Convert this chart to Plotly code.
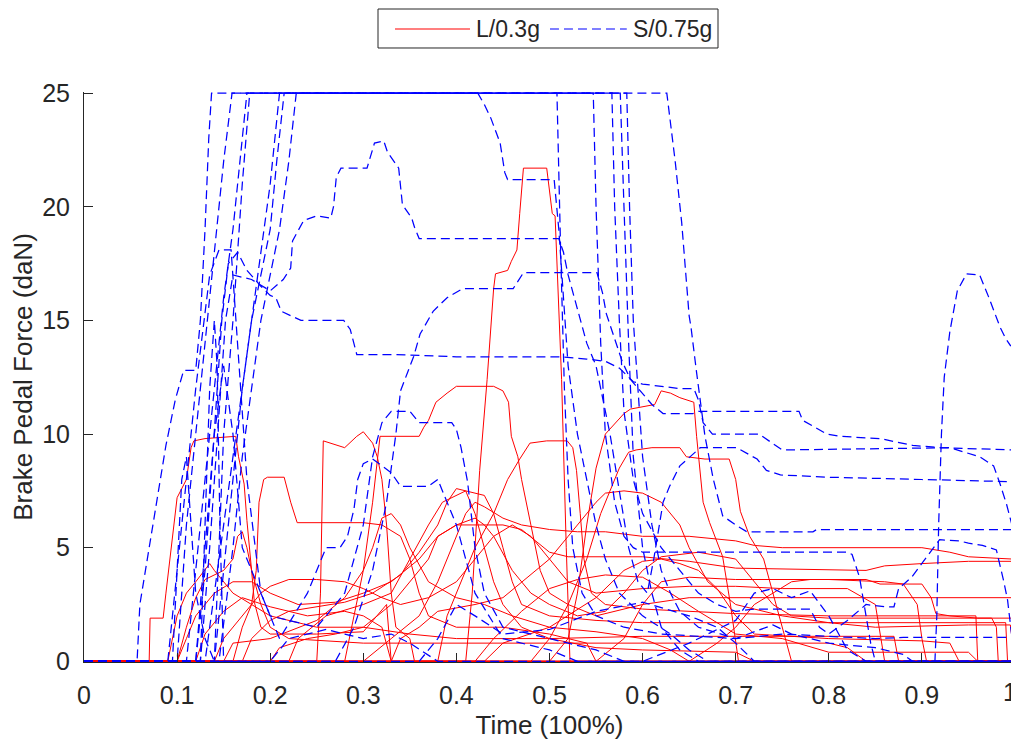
import plotly.graph_objects as go

# ---- data: (time fraction, brake pedal force daN) ----
# Red solid series  "L/0.3g"
L01 = [(0,0),(0.41,0),(0.417,3),(0.425,8.4),(0.433,12.4),(0.44,16.4),(0.442,17.05),(0.455,17.2),(0.459,17.6),(0.465,18.1),(0.468,19.7),(0.472,21.7),(0.497,21.7),(0.503,19.7),(0.506,19.6),(0.513,12.4),(0.518,5),(0.522,0),(1,0)]
L02 = [(0,0),(0.07,0),(0.071,1.9),(0.085,1.9),(0.088,3),(0.095,5.5),(0.1,7.2),(0.11,8.0),(0.115,9.4),(0.118,9.7),(0.13,9.8),(0.163,9.9),(0.166,9.0),(0.172,7.8),(0.175,6.2),(0.18,4.0),(0.183,2.6),(0.19,1.5),(0.2,1.2),(0.25,1.2),(0.3,1.3),(0.325,2.5),(0.33,0),(1,0)]
L03 = [(0,0),(0.16,0),(0.17,1.5),(0.18,2.5),(0.185,4),(0.188,7),(0.193,8.0),(0.197,8.1),(0.215,8.1),(0.222,7.0),(0.229,6.1),(0.279,6.1),(0.3,6.1),(0.32,6.0),(0.34,5.5),(0.35,4.5),(0.36,3),(0.37,2),(0.4,1.5),(0.45,1.5),(0.5,1.2),(0.54,0.8),(0.55,0),(1,0)]
L04 = [(0,0),(0.25,0),(0.254,3),(0.257,9.7),(0.28,9.4),(0.293,9.9),(0.3,10.1),(0.31,9.6),(0.315,9.0),(0.32,8),(0.325,6),(0.33,3),(0.335,1.5),(0.35,1.0),(0.355,0),(1,0)]
L05 = [(0,0),(0.28,0),(0.29,2),(0.3,4),(0.31,7),(0.315,9),(0.318,9.9),(0.36,9.9),(0.365,10.3),(0.37,10.6),(0.378,11.4),(0.39,11.8),(0.4,12.1),(0.44,12.1),(0.45,11.9),(0.456,11.4),(0.459,9.9),(0.466,9.0),(0.47,8),(0.48,6),(0.49,4),(0.5,3),(0.52,2.5),(0.55,2),(0.6,2.5),(0.65,2.8),(1,2.8)]
L06 = [(0,0),(0.5,0),(0.52,1),(0.53,3),(0.54,6),(0.55,8.5),(0.56,10),(0.58,10.9),(0.587,11.1),(0.613,11.3),(0.62,11.9),(0.63,11.8),(0.64,11.6),(0.655,11.4),(0.658,9.9),(0.662,8.4),(0.665,7.0),(0.672,6.1),(0.686,4.6),(0.694,2.6),(0.703,0),(1,0)]
L07 = [(0,0),(0.48,0),(0.5,1),(0.52,2.5),(0.54,4.5),(0.555,6.5),(0.565,7.5),(0.575,8.5),(0.585,9.2),(0.593,9.3),(0.61,9.4),(0.64,9.4),(0.647,9.0),(0.667,8.9),(0.693,8.9),(0.7,8),(0.705,6.6),(0.715,5.5),(0.73,4.5),(0.74,3),(0.75,1.5),(0.76,0),(1,0)]
L08 = [(0,0),(0.38,0),(0.39,2),(0.4,3),(0.42,5),(0.44,6.5),(0.455,8),(0.468,8.9),(0.479,9.6),(0.497,9.7),(0.519,9.7),(0.525,9.4),(0.529,8.4),(0.533,6.5),(0.537,4.5),(0.545,3),(0.56,2.5),(0.6,2.3),(0.7,2.1),(0.8,2.0),(0.958,2.0),(0.96,0),(1,0)]
L09 = [(0,0),(0.22,0),(0.23,1),(0.26,2),(0.3,2.5),(0.33,3),(0.35,4.5),(0.37,6),(0.385,7),(0.4,7.3),(0.41,7.5),(0.43,7.3),(0.44,6.5),(0.45,5),(0.46,3.5),(0.47,2.5),(0.5,2),(0.55,1.8),(0.6,1.7),(0.8,1.7),(0.99,1.7),(0.992,0),(1,0)]
L10 = [(0,0),(0.3,0),(0.33,1),(0.36,2),(0.38,3.5),(0.395,5),(0.41,6.5),(0.42,7),(0.43,6.8),(0.45,6.3),(0.47,6.0),(0.5,5.8),(0.53,5.7),(0.56,5.7),(0.6,5.5),(0.65,5.5),(0.7,5.3),(0.72,5.1),(0.75,5.0),(0.9,5.0),(0.93,4.8),(0.95,4.6),(0.997,4.5),(1,1.5)]
L11 = [(0,0),(0.1,0),(0.11,1),(0.12,2),(0.14,3),(0.16,3.5),(0.18,3.5),(0.2,3),(0.23,2.5),(0.27,2.6),(0.3,3),(0.33,3.5),(0.36,4.5),(0.38,5.5),(0.4,6),(0.45,6),(0.47,5.8),(0.5,4.8),(0.52,4.6),(0.6,4.6),(0.65,4.4),(0.7,4.1),(0.84,4.0),(0.86,4.2),(0.9,4.3),(0.95,4.4),(1,4.4)]
L12 = [(0,0),(0.55,0),(0.58,1),(0.6,2.5),(0.62,3.5),(0.65,3.7),(0.7,3.6),(0.84,3.6),(0.855,3.4),(0.9,3.4),(0.91,2.8),(0.915,2.1),(0.93,2.0),(0.96,1.9),(0.975,1.9),(0.98,1.5),(0.982,0),(1,0)]
L13 = [(0,0),(0.09,0),(0.1,2),(0.11,3),(0.12,3.5),(0.13,4),(0.135,4.3),(0.14,4.0),(0.15,3.5),(0.16,3.0),(0.18,2.5),(0.2,2.0),(0.25,1.5),(0.3,1.5),(0.35,1.2),(0.4,1.0),(0.5,1.0),(0.6,1.1),(0.7,1.1),(0.87,1.1),(0.875,0),(1,0)]
L14 = [(0,0),(0.1,0),(0.11,1.5),(0.12,2.8),(0.13,3.6),(0.14,3.8),(0.15,4.0),(0.16,4.5),(0.165,5.5),(0.17,5.7),(0.175,5.0),(0.18,4),(0.19,2.5),(0.2,1.5),(0.22,1.0),(0.3,0.8),(0.5,0.8),(0.7,0.8),(0.8,0.8),(0.82,0.6),(0.84,0),(1,0)]
L15 = [(0,0),(0.14,0),(0.15,1),(0.17,2),(0.19,3),(0.2,3.3),(0.22,3.6),(0.25,3.6),(0.28,3.5),(0.3,3.2),(0.32,2.8),(0.34,2.5),(0.37,2.8),(0.4,3.5),(0.42,4.5),(0.44,5.5),(0.46,6),(0.48,5.5),(0.5,4.5),(0.52,3.5),(0.55,3),(0.6,3.2),(0.65,3.3),(0.7,3.3),(0.75,3.2),(0.82,3.2),(0.85,2.5),(0.86,0),(1,0)]
L16 = [(0,0),(0.17,0),(0.18,1),(0.2,1.8),(0.22,2.2),(0.25,2.4),(0.28,2.6),(0.31,3.0),(0.34,3.8),(0.36,4.8),(0.38,6.0),(0.39,7.0),(0.4,7.6),(0.41,7.5),(0.42,6.5),(0.43,5),(0.44,3.5),(0.45,2.5),(0.47,1.5),(0.5,1),(0.55,0.6),(0.6,0.5),(0.7,0.4),(0.72,0),(1,0)]
L17 = [(0,0),(0.2,0),(0.21,0.6),(0.24,1),(0.27,1.2),(0.3,1.5),(0.33,2.5),(0.35,3.5),(0.37,4.5),(0.38,5.5),(0.4,6.0),(0.42,6.3),(0.43,6.0),(0.44,5.5),(0.46,4.0),(0.48,3),(0.5,2.5),(0.53,2),(0.56,2.2),(0.58,3.0),(0.6,4.0),(0.62,4.6),(0.66,4.8),(0.7,4.5),(0.72,3.5),(0.74,2.5),(0.76,2.0),(0.8,1.9),(0.9,1.9),(1,1.9)]
L18 = [(0,0),(0.65,0),(0.68,0.8),(0.7,1.5),(0.72,2.5),(0.74,3),(0.76,3.5),(0.78,3.6),(0.8,3.6),(0.86,3.5),(0.88,3.4),(0.895,2.5),(0.9,1),(0.905,0),(1,0)]
L19 = [(0,0),(0.33,0),(0.34,1),(0.36,1.5),(0.38,2.2),(0.42,2.5),(0.45,2.8),(0.48,3.8),(0.5,4.5),(0.52,5.5),(0.54,6.5),(0.55,7),(0.56,7.4),(0.58,7.5),(0.6,7.4),(0.62,7),(0.64,6),(0.65,5),(0.67,3.5),(0.7,2.5),(0.75,2),(0.8,1.7),(0.85,1.5),(0.95,1.6),(0.995,1.6),(1,0)]
L20 = [(0,0),(0.12,0),(0.13,1.2),(0.15,2.2),(0.17,2.8),(0.2,2.4),(0.24,2.0),(0.28,2.2),(0.3,2.0),(0.32,1.5),(0.33,0),(0.42,0),(0.44,1),(0.47,2.2),(0.5,3.2),(0.53,3.6),(0.56,3.8),(0.6,3.7),(0.63,3.0),(0.66,2.2),(0.7,1.2),(0.75,1.0),(0.8,0.4),(0.9,0.4),(0.95,0.4),(0.96,0),(1,0)]
L21 = [(0,0),(0.15,0),(0.16,0.8),(0.2,1.0),(0.25,1.8),(0.28,2.8),(0.3,4),(0.31,5),(0.32,6.3),(0.33,6.5),(0.34,6.0),(0.35,5),(0.37,3.5),(0.4,2.8),(0.43,2.5),(0.46,2.0),(0.5,1.5),(0.55,1.3),(0.6,1.0),(0.63,0.5),(0.65,0),(1,0)]
L22 = [(0,0),(0.43,0),(0.45,0.8),(0.5,1.5),(0.55,2.8),(0.58,4),(0.6,4.4),(0.62,4.5),(0.64,4.3),(0.66,4.0),(0.68,3.2),(0.7,2.0),(0.72,1.2),(0.8,1.0),(0.9,0.9),(0.93,0.8),(0.94,0),(1,0)]

# Blue dashed series  "S/0.75g"
S01 = [(0,0),(0.057,0),(0.06,2.5),(0.068,4.5),(0.078,7),(0.088,9.5),(0.098,11.5),(0.107,12.8),(0.12,12.8),(0.125,15),(0.13,19),(0.134,23),(0.137,25),(0.626,25),(0.635,22),(0.642,19.3),(0.65,15.2),(0.652,14.7),(0.658,12.7),(0.667,9.9),(0.676,8),(0.686,6.4),(0.7,6),(0.712,5.7),(0.783,5.7),(0.787,5.8),(1,5.8)]
S02 = [(0,0),(0.1,0),(0.105,3),(0.11,6),(0.12,10),(0.13,14),(0.14,18),(0.15,22),(0.159,25),(0.576,25),(0.58,20),(0.585,14),(0.59,9),(0.6,5),(0.61,3),(0.62,1.5),(0.64,0.5),(0.66,0),(0.914,0),(0.916,2),(0.918,6),(0.921,10),(0.924,12.5),(0.93,14.5),(0.938,16.3),(0.942,16.6),(0.948,17.05),(0.962,17),(0.972,16),(0.984,14.7),(0.99,14.2),(0.995,13.9),(1,13.8)]
S03 = [(0,0),(0.11,0),(0.12,4),(0.13,8),(0.14,12),(0.15,16),(0.16,19),(0.17,23),(0.175,25),(0.567,25),(0.57,20),(0.575,15),(0.58,11),(0.59,8),(0.6,6.5),(0.62,5),(0.64,4),(0.66,3),(0.68,2.5),(0.7,2.2),(0.72,2.3),(0.78,2.3),(0.79,1.5),(0.8,1.2),(0.82,1.8),(0.84,2.5),(0.86,2.4),(0.87,2.4),(0.875,3.2),(0.889,3.7),(0.898,4.2),(0.909,4.8),(0.919,5.35),(0.94,5.3),(0.95,5.2),(0.965,5.1),(0.98,4.9),(0.988,3.5),(0.992,2.7),(0.996,1.3),(1,0)]
S04 = [(0,0),(0.14,0),(0.145,5),(0.15,10),(0.16,15),(0.17,21),(0.178,25),(0.547,25),(0.55,20),(0.555,14),(0.56,10),(0.57,7),(0.58,5.5),(0.59,5),(0.6,4.8),(0.82,4.8),(0.825,4.7),(0.833,3.7),(0.84,2),(0.845,0.8),(0.85,0),(1,0)]
S05 = [(0,0),(0.13,0),(0.14,3),(0.15,6),(0.16,9),(0.17,12),(0.18,15),(0.19,18),(0.2,21),(0.21,25),(0.508,25),(0.512,18),(0.516,12),(0.52,8),(0.525,5),(0.535,3),(0.55,2),(0.58,1.5),(0.62,1.2),(0.7,1),(0.75,1.2),(0.8,1.1),(0.85,1.0),(0.88,1.05),(1,1.05)]
S06 = [(0,0),(0.12,0),(0.13,4),(0.14,10),(0.148,15),(0.155,17.5),(0.165,18),(0.175,17.2),(0.19,16.5),(0.2,16.1),(0.206,16),(0.212,15.4),(0.233,15),(0.279,15),(0.286,14.6),(0.293,13.5),(0.33,13.5),(0.4,13.4),(0.51,13.4),(0.54,13.3),(0.56,13.2),(0.575,12.9),(0.59,12.3),(0.6,12.2),(0.64,12.0),(0.655,12),(0.66,11.5),(0.665,10.5),(0.675,10),(0.725,10),(0.74,9.6),(0.75,9.3),(0.93,9.4),(0.962,9.0),(0.977,8.6),(0.984,7.8),(0.991,6.9),(0.998,5.8),(1,5.8)]
S07 = [(0,0),(0.125,0),(0.135,5),(0.145,11),(0.152,15),(0.16,17),(0.18,16.8),(0.2,16.3),(0.214,16.8),(0.222,17.3),(0.224,18.5),(0.236,19.4),(0.25,19.6),(0.265,19.5),(0.268,20),(0.271,21.3),(0.276,21.7),(0.304,21.7),(0.312,22.8),(0.322,22.9),(0.326,22.4),(0.338,21.7),(0.342,20.1),(0.352,19.5),(0.355,19.1),(0.36,18.6),(0.51,18.6),(0.515,18),(0.52,17),(0.53,15.5),(0.54,14),(0.55,13),(0.555,12),(0.565,10),(0.575,7.5),(0.585,5),(0.595,3.5),(0.605,3),(0.612,4.5),(0.622,7.0),(0.629,7.7),(0.64,8.6),(0.662,9.4),(0.701,9.4),(0.723,8.9),(0.733,8.4),(0.748,8.2),(0.8,8.1),(0.9,8.0),(1,7.9)]
S08 = [(0,0),(0.27,0),(0.29,1.5),(0.31,4),(0.325,7),(0.335,10),(0.34,11.9),(0.354,13.4),(0.361,14.4),(0.375,15.4),(0.39,16),(0.407,16.4),(0.461,16.4),(0.472,17.1),(0.551,17.1),(0.557,16.2),(0.561,15.3),(0.568,14.4),(0.578,13.2),(0.587,12.4),(0.597,11.9),(0.61,11.3),(0.622,10.9),(0.654,10.9),(0.66,11),(0.768,11),(0.772,10.6),(0.798,10),(0.812,9.9),(0.855,9.8),(0.89,9.5),(0.92,9.4),(1,9.3)]
S09 = [(0,0),(0.14,0),(0.15,4),(0.16,8),(0.17,12),(0.18,15),(0.19,17),(0.2,19),(0.207,22),(0.215,25),(0.423,25),(0.43,24.5),(0.437,23.9),(0.447,22.8),(0.452,21.5),(0.455,21.2),(0.505,21.2),(0.51,19),(0.515,16),(0.52,13),(0.53,10),(0.54,8),(0.55,6),(0.56,4.5),(0.575,3),(0.6,2),(0.63,1.2),(0.65,0.5),(0.67,0),(1,0)]
S10 = [(0,0),(0.09,0),(0.1,4),(0.12,12),(0.135,17),(0.145,18.1),(0.158,18.1),(0.165,14),(0.175,8),(0.19,3),(0.21,1),(0.24,3),(0.26,5),(0.275,5),(0.283,5.5),(0.29,6.7),(0.294,8),(0.3,8.7),(0.31,8.9),(0.32,8.6),(0.33,8.3),(0.34,7.7),(0.37,7.7),(0.38,8),(0.4,6),(0.42,3),(0.45,1),(0.5,0.5),(0.53,0),(1,0)]
S11 = [(0,0),(0.12,0),(0.13,5),(0.14,10),(0.15,13),(0.16,10),(0.17,5),(0.2,2),(0.25,1.5),(0.28,3),(0.3,6),(0.31,9),(0.32,10.5),(0.33,11),(0.35,11),(0.36,10.5),(0.395,10.5),(0.4,10.2),(0.405,9.4),(0.412,7.9),(0.42,5),(0.43,3),(0.45,1.5),(0.5,1),(0.55,0.5),(0.58,0),(1,0)]
S12 = [(0,0),(0.145,0),(0.16,5),(0.17,9),(0.18,12),(0.19,15),(0.2,17),(0.21,19),(0.22,22),(0.228,25),(0.583,25),(0.586,20),(0.59,15),(0.595,12),(0.6,9),(0.61,6),(0.62,4),(0.63,3),(0.64,2.2),(0.66,1.5),(0.7,1),(0.74,1.6),(0.76,1.2),(0.8,0.8),(0.85,0.6),(0.88,0.3),(0.89,0),(1,0)]
S13 = [(0,0),(0.125,0),(0.13,6),(0.135,12),(0.14,15),(0.143,13),(0.146,6),(0.15,0),(0.36,0),(0.38,1),(0.4,2.5),(0.42,2),(0.45,1.2),(0.5,1.4),(0.55,2.2),(0.6,2.6),(0.65,2.0),(0.68,1.5),(0.7,0.8),(0.72,0),(1,0)]
S14 = [(0,0),(0.095,0),(0.1,4),(0.105,8),(0.11,9),(0.115,6),(0.12,3),(0.13,1),(0.14,0),(0.2,0),(0.22,1),(0.26,1.4),(0.3,1),(0.33,1.2),(0.35,0.8),(0.38,0),(0.6,0),(0.65,0.8),(0.7,1.8),(0.72,3.0),(0.74,3.2),(0.76,2.8),(0.78,3.1),(0.8,2.0),(0.82,0.5),(0.84,0),(1,0)]

red_series = [L01, L02, L03, L04, L05, L06, L07, L08, L09, L10, L11,
              L12, L13, L14, L15, L16, L17, L18, L19, L20, L21, L22]
blue_series = [S01, S02, S03, S04, S05, S06, S07, S08, S09, S10, S11, S12, S13, S14]

x_ticks = [0, 0.1, 0.2, 0.3, 0.4, 0.5, 0.6, 0.7, 0.8, 0.9, 1]
x_tick_text = ["0", "0.1", "0.2", "0.3", "0.4", "0.5", "0.6", "0.7", "0.8", "0.9", "1"]
y_ticks = [0, 5, 10, 15, 20, 25]

RED = "#ff0000"
BLUE = "#0000ff"
AX = "#262626"
FONT = "Liberation Sans, Arial, sans-serif"
TICK_SIZE = 25
TITLE_SIZE = 26

fig = go.Figure()
for s in red_series:
    fig.add_trace(go.Scatter(x=[p[0] for p in s], y=[p[1] for p in s], mode="lines",
                             line=dict(color=RED, width=1), showlegend=False, hoverinfo="skip"))
for s in blue_series:
    fig.add_trace(go.Scatter(x=[p[0] for p in s], y=[p[1] for p in s], mode="lines",
                             line=dict(color=BLUE, width=1.25, dash="9px,5px"),
                             showlegend=False, hoverinfo="skip"))

# manual legend (box at the top centre)
fig.add_shape(type="rect", xref="paper", yref="paper", x0=0.3158, x1=0.681, y0=1.0772, y1=1.1456,
              line=dict(color=AX, width=1), fillcolor="white", layer="above")
fig.add_shape(type="line", xref="paper", yref="paper", x0=0.334, x1=0.4146, y0=1.1105, y1=1.1105,
              line=dict(color=RED, width=1.2), layer="above")
fig.add_shape(type="line", xref="paper", yref="paper", x0=0.5005, x1=0.583, y0=1.1105, y1=1.1105,
              line=dict(color=BLUE, width=1.2, dash="9px,5px"), layer="above")
fig.add_annotation(xref="paper", yref="paper", x=0.4185, y=1.1105, text="L/0.3g", showarrow=False,
                   xanchor="left", yanchor="middle", font=dict(family=FONT, size=23, color=AX))
fig.add_annotation(xref="paper", yref="paper", x=0.5875, y=1.1105, text="S/0.75g", showarrow=False,
                   xanchor="left", yanchor="middle", font=dict(family=FONT, size=23, color=AX))

# the last x tick label sits at the page edge: drawn as text ending at the edge
shown_text = x_tick_text[:-1] + [""]
fig.add_annotation(xref="x", yref="paper", x=x_ticks[-1], y=-0.0526, text=x_tick_text[-1],
                   showarrow=False, xanchor="right", yanchor="middle", xshift=4,
                   font=dict(family=FONT, size=TICK_SIZE, color=AX))

# The page body has an 8 px margin, so the figure is 8 px smaller and margins compensate.
fig.update_layout(
    width=1011, height=732, autosize=False,
    margin=dict(l=76, r=4, t=84, b=78, autoexpand=False),
    paper_bgcolor="white", plot_bgcolor="white",
    font=dict(family=FONT, size=TICK_SIZE, color=AX),
    showlegend=False,
)
fig.update_xaxes(range=[0, 1], tickvals=x_ticks, ticktext=shown_text,
                 ticks="inside", ticklen=9, tickcolor=AX, tickwidth=1,
                 showline=True, linecolor=AX, linewidth=1, mirror=False,
                 showgrid=False, zeroline=False, ticklabelstandoff=11,
                 title=dict(text="Time (100%)", font=dict(family=FONT, size=TITLE_SIZE, color=AX), standoff=8),
                 tickfont=dict(family=FONT, size=TICK_SIZE, color=AX))
fig.update_yaxes(range=[-0.03, 25.05], tickvals=y_ticks,
                 ticks="inside", ticklen=9, tickcolor=AX, tickwidth=1,
                 showline=True, linecolor=AX, linewidth=1, mirror=False,
                 showgrid=False, zeroline=False, ticklabelstandoff=8,
                 title=dict(text="Brake Pedal Force (daN)", font=dict(family=FONT, size=TITLE_SIZE, color=AX), standoff=6),
                 tickfont=dict(family=FONT, size=TICK_SIZE, color=AX))

fig.write_html("out.html")
